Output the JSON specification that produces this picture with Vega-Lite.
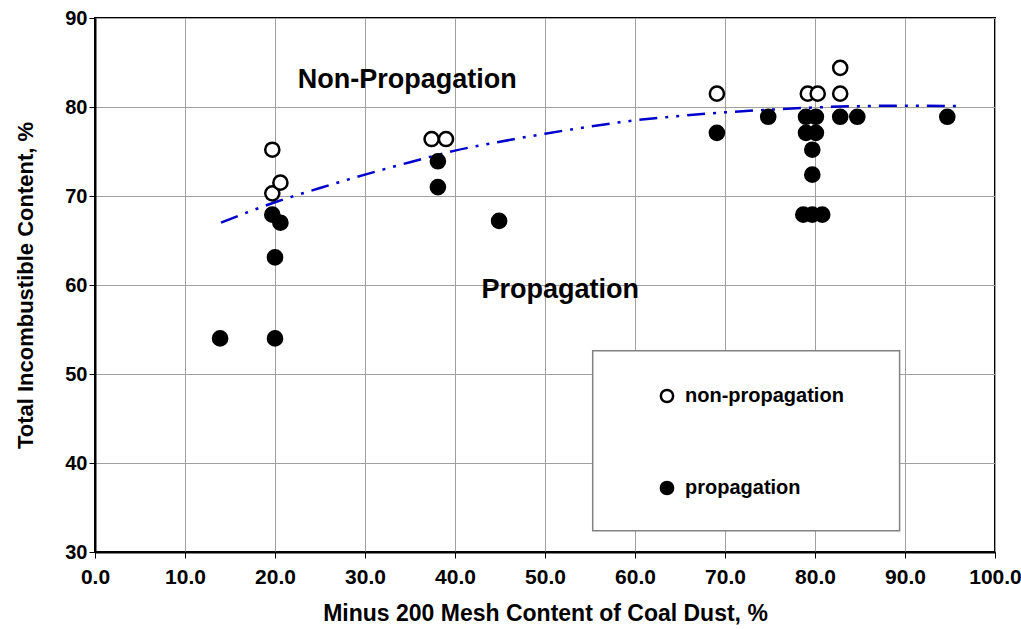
{
  "$schema": "https://vega.github.io/schema/vega-lite/v6.json",
  "width": 900,
  "height": 534,
  "autosize": {"type": "none"},
  "padding": {"left": 95, "top": 18, "right": 26, "bottom": 77},
  "background": "white",
  "config": {
    "view": {"stroke": "black", "strokeWidth": 2},
    "font": "Liberation Sans",
    "axis": {
      "labelFont": "Liberation Sans",
      "labelFontWeight": "bold",
      "labelColor": "black",
      "labelFlush": false,
      "titleFont": "Liberation Sans",
      "titleFontWeight": "bold",
      "titleColor": "black",
      "gridColor": "#a0a0a0",
      "gridWidth": 1,
      "gridOpacity": 1,
      "domainColor": "black",
      "domainWidth": 2,
      "tickColor": "black",
      "tickWidth": 1,
      "tickSize": 6
    }
  },
  "datasets": {
    "pts": [
      {"mesh": 19.7, "tic": 75.2, "result": "non-propagation"},
      {"mesh": 19.7, "tic": 70.3, "result": "non-propagation"},
      {"mesh": 20.6, "tic": 71.5, "result": "non-propagation"},
      {"mesh": 37.4, "tic": 76.4, "result": "non-propagation"},
      {"mesh": 39.0, "tic": 76.4, "result": "non-propagation"},
      {"mesh": 69.1, "tic": 81.5, "result": "non-propagation"},
      {"mesh": 79.2, "tic": 81.5, "result": "non-propagation"},
      {"mesh": 80.3, "tic": 81.5, "result": "non-propagation"},
      {"mesh": 82.8, "tic": 84.4, "result": "non-propagation"},
      {"mesh": 82.8, "tic": 81.5, "result": "non-propagation"},
      {"mesh": 13.9, "tic": 54.0, "result": "propagation"},
      {"mesh": 20.0, "tic": 54.0, "result": "propagation"},
      {"mesh": 20.0, "tic": 63.1, "result": "propagation"},
      {"mesh": 19.7, "tic": 67.9, "result": "propagation"},
      {"mesh": 20.6, "tic": 67.0, "result": "propagation"},
      {"mesh": 38.1, "tic": 73.9, "result": "propagation"},
      {"mesh": 38.1, "tic": 71.0, "result": "propagation"},
      {"mesh": 44.9, "tic": 67.2, "result": "propagation"},
      {"mesh": 69.1, "tic": 77.1, "result": "propagation"},
      {"mesh": 74.8, "tic": 78.9, "result": "propagation"},
      {"mesh": 79.0, "tic": 78.9, "result": "propagation"},
      {"mesh": 80.1, "tic": 78.9, "result": "propagation"},
      {"mesh": 79.0, "tic": 77.1, "result": "propagation"},
      {"mesh": 80.1, "tic": 77.1, "result": "propagation"},
      {"mesh": 79.7, "tic": 75.2, "result": "propagation"},
      {"mesh": 79.7, "tic": 72.4, "result": "propagation"},
      {"mesh": 78.7, "tic": 67.9, "result": "propagation"},
      {"mesh": 79.7, "tic": 67.9, "result": "propagation"},
      {"mesh": 80.8, "tic": 67.9, "result": "propagation"},
      {"mesh": 82.8, "tic": 78.9, "result": "propagation"},
      {"mesh": 84.7, "tic": 78.9, "result": "propagation"},
      {"mesh": 94.7, "tic": 78.9, "result": "propagation"}
    ],
    "trend": [
      {"mesh": 14, "tic": 67.0},
      {"mesh": 20, "tic": 69.3},
      {"mesh": 25, "tic": 70.9},
      {"mesh": 30, "tic": 72.4},
      {"mesh": 35, "tic": 73.8},
      {"mesh": 40, "tic": 75.1},
      {"mesh": 45, "tic": 76.1},
      {"mesh": 50, "tic": 77.0},
      {"mesh": 55, "tic": 77.8},
      {"mesh": 60, "tic": 78.5},
      {"mesh": 65, "tic": 79.0},
      {"mesh": 70, "tic": 79.4},
      {"mesh": 75, "tic": 79.7},
      {"mesh": 80, "tic": 79.95},
      {"mesh": 85, "tic": 80.1},
      {"mesh": 90, "tic": 80.15},
      {"mesh": 96, "tic": 80.1}
    ],
    "notes": [
      {"mesh": 34.7, "tic": 83.0, "text": "Non-Propagation"},
      {"mesh": 51.7, "tic": 59.4, "text": "Propagation"}
    ],
    "box": [
      {"x1": 55.3, "x2": 89.4, "y1": 32.4, "y2": 52.6}
    ]
  },
  "layer": [
    {
      "data": {"name": "box"},
      "mark": {"type": "rect", "fill": "white", "stroke": "#808080", "strokeWidth": 1.5},
      "encoding": {
        "x": {"field": "x1", "type": "quantitative", "scale": {"domain": [0, 100], "nice": false},
          "axis": {"values": [0, 10, 20, 30, 40, 50, 60, 70, 80, 90, 100], "format": ".1f", "title": "Minus 200 Mesh Content of Coal Dust, %", "labelFontSize": 21, "titleFontSize": 23, "labelPadding": 8, "titlePadding": 15}},
        "x2": {"field": "x2"},
        "y": {"field": "y1", "type": "quantitative", "scale": {"domain": [30, 90], "nice": false},
          "axis": {"values": [30, 40, 50, 60, 70, 80, 90], "title": "Total Incombustible Content, %", "labelFontSize": 20, "titleFontSize": 22, "labelPadding": 2, "titlePadding": 27}},
        "y2": {"field": "y2"}
      }
    },
    {
      "data": {"name": "trend"},
      "mark": {"type": "line", "color": "#0000CC", "strokeWidth": 2.5, "strokeDash": [18, 8, 3, 8, 3, 8], "interpolate": "monotone"},
      "encoding": {
        "x": {"field": "mesh", "type": "quantitative"},
        "y": {"field": "tic", "type": "quantitative"}
      }
    },
    {
      "data": {"name": "pts"},
      "mark": {"type": "point", "shape": "circle", "size": 200, "filled": true, "stroke": "black", "strokeWidth": 2.5, "opacity": 1},
      "encoding": {
        "x": {"field": "mesh", "type": "quantitative"},
        "y": {"field": "tic", "type": "quantitative"},
        "fill": {"field": "result", "type": "nominal",
          "scale": {"domain": ["non-propagation", "propagation"], "range": ["white", "black"]},
          "legend": {"orient": "none", "legendX": 562, "legendY": 368, "title": null, "padding": 0, "rowPadding": 68,
            "labelFont": "Liberation Sans", "labelFontWeight": "bold", "labelFontSize": 20, "labelColor": "black", "labelOffset": 8,
            "symbolType": "circle", "symbolSize": 150, "symbolStrokeWidth": 2.5, "symbolStrokeColor": "black", "fillColor": null, "strokeColor": null}}
      }
    },
    {
      "data": {"name": "notes"},
      "mark": {"type": "text", "font": "Liberation Sans", "fontWeight": "bold", "fontSize": 27, "color": "black", "align": "center", "baseline": "middle"},
      "encoding": {
        "x": {"field": "mesh", "type": "quantitative"},
        "y": {"field": "tic", "type": "quantitative"},
        "text": {"field": "text"}
      }
    }
  ]
}
